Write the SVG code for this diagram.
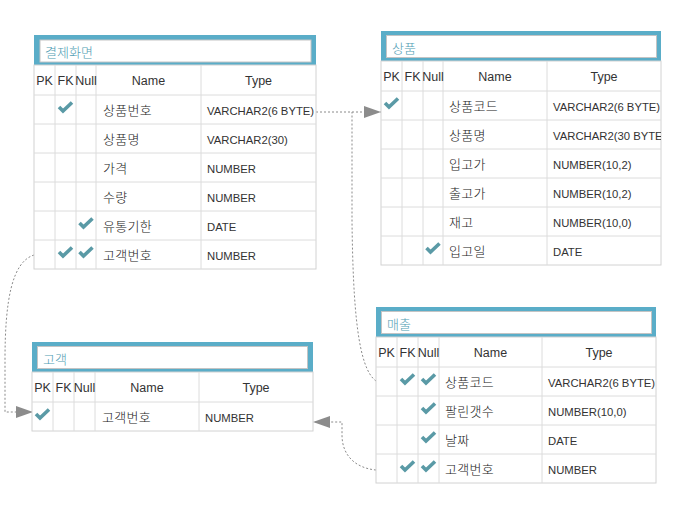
<svg xmlns="http://www.w3.org/2000/svg" xmlns:xlink="http://www.w3.org/1999/xlink" width="685" height="507" viewBox="0 0 685 507">
<style>
.hd{fill:#5aadc8}
.hi{fill:#fff;stroke:#c4c4c4;stroke-width:1}
.title{font-family:"Noto Sans CJK KR",sans-serif;font-size:13px;font-weight:300;fill:#4f9cb3}
.grid{fill:#fff;stroke:#d2d2d2;stroke-width:1}
.ln{stroke:#dcdcdc;stroke-width:1;fill:none}
.ch{font-family:"Liberation Sans",Arial,sans-serif;font-size:12.5px;fill:#333;text-anchor:middle}
.kn{font-family:"Noto Sans CJK KR",sans-serif;font-size:13px;font-weight:300;fill:#222;letter-spacing:0.3px}
.ty{font-family:"Liberation Sans",Arial,sans-serif;font-size:11.3px;fill:#333}
.ck{fill:none;stroke:#5a9aa6;stroke-width:3.6}
.conn path{fill:none;stroke:#8a8a8a;stroke-width:1;stroke-dasharray:2 2}
</style>
<defs>
<path id="chk" class="ck" d="M-6.5,-0.5 L-2.5,3.5 L6.5,-5"/>
<marker id="arr" viewBox="0 0 17 12" refX="17" refY="6" markerWidth="17" markerHeight="12" markerUnits="userSpaceOnUse" orient="auto">
<path d="M0,0 L17,6 L0,12 z" fill="#8c8c8c"/>
</marker>
<clipPath id="c2"><rect x="0" y="0" width="280" height="240"/></clipPath>
</defs>

<g id="connectors" class="conn">
<path d="M316,112 L381,112" marker-end="url(#arr)"/>
<path d="M376,381 C358,368 353,310 352,220 L352,112"/>
<path d="M34,255 C12,262 5,300 5,360 L5,412 L33,412" marker-end="url(#arr)"/>
<path d="M376,470 C355,468 342,455 342,435 L342,422 L313,422" marker-end="url(#arr)"/>
</g>

<g id="table-결제화면" transform="translate(34,35)">
<rect class="hd" x="0" y="0" width="282" height="30"/>
<rect class="hi" x="6" y="5" width="271" height="22"/>
<text class="title" x="11" y="22">결제화면</text>
<rect class="grid" x="0" y="30" width="282" height="204"/>
<path class="ln" d="M21,30V234M42,30V234M62,30V234M167,30V234M0,60H282M0,89H282M0,118H282M0,147H282M0,176H282M0,205H282"/>
<text class="ch" x="10.5" y="50">PK</text>
<text class="ch" x="31.5" y="50">FK</text>
<text class="ch" x="52" y="50">Null</text>
<text class="ch" x="114.5" y="50">Name</text>
<text class="ch" x="224.5" y="50">Type</text>
<use href="#chk" x="31.5" y="72.5"/>
<text class="kn" x="69" y="79.5">상품번호</text><text class="ty" x="173" y="80">VARCHAR2(6 BYTE)</text>
<text class="kn" x="69" y="108.5">상품명</text><text class="ty" x="173" y="109">VARCHAR2(30)</text>
<text class="kn" x="69" y="137.5">가격</text><text class="ty" x="173" y="138">NUMBER</text>
<text class="kn" x="69" y="166.5">수량</text><text class="ty" x="173" y="167">NUMBER</text>
<use href="#chk" x="52" y="188.5"/>
<text class="kn" x="69" y="195.5">유통기한</text><text class="ty" x="173" y="196">DATE</text>
<use href="#chk" x="31.5" y="217.5"/><use href="#chk" x="52" y="217.5"/>
<text class="kn" x="69" y="224.5">고객번호</text><text class="ty" x="173" y="225">NUMBER</text>
</g>

<g id="table-상품" transform="translate(381,31)">
<rect class="hd" x="0" y="0" width="280" height="30"/>
<rect class="hi" x="5.5" y="4.5" width="270" height="22"/>
<text class="title" x="11" y="22">상품</text>
<rect class="grid" x="0" y="30" width="280" height="204"/>
<path class="ln" d="M21,30V234M42,30V234M62,30V234M166,30V234M0,60H280M0,89H280M0,118H280M0,147H280M0,176H280M0,205H280"/>
<text class="ch" x="10.5" y="50">PK</text>
<text class="ch" x="31.5" y="50">FK</text>
<text class="ch" x="52" y="50">Null</text>
<text class="ch" x="114" y="50">Name</text>
<text class="ch" x="223" y="50">Type</text>
<g clip-path="url(#c2)">
<use href="#chk" x="10.5" y="72.5"/>
<text class="kn" x="68" y="79.5">상품코드</text><text class="ty" x="172" y="80">VARCHAR2(6 BYTE)</text>
<text class="kn" x="68" y="108.5">상품명</text><text class="ty" x="172" y="109">VARCHAR2(30 BYTE)</text>
<text class="kn" x="68" y="137.5">입고가</text><text class="ty" x="172" y="138">NUMBER(10,2)</text>
<text class="kn" x="68" y="166.5">출고가</text><text class="ty" x="172" y="167">NUMBER(10,2)</text>
<text class="kn" x="68" y="195.5">재고</text><text class="ty" x="172" y="196">NUMBER(10,0)</text>
<use href="#chk" x="52" y="217.5"/>
<text class="kn" x="68" y="224.5">입고일</text><text class="ty" x="172" y="225">DATE</text>
</g>
</g>

<g id="table-매출" transform="translate(376,307)">
<rect class="hd" x="0" y="0" width="280" height="30"/>
<rect class="hi" x="5.5" y="4.5" width="270" height="22"/>
<text class="title" x="11" y="22">매출</text>
<rect class="grid" x="0" y="30" width="280" height="146"/>
<path class="ln" d="M21,30V176M42,30V176M63,30V176M166,30V176M0,60H280M0,89H280M0,118H280M0,147H280"/>
<text class="ch" x="10.5" y="50">PK</text>
<text class="ch" x="31.5" y="50">FK</text>
<text class="ch" x="52.5" y="50">Null</text>
<text class="ch" x="114.5" y="50">Name</text>
<text class="ch" x="223" y="50">Type</text>
<use href="#chk" x="31.5" y="72.5"/><use href="#chk" x="52.5" y="72.5"/>
<text class="kn" x="69" y="79.5">상품코드</text><text class="ty" x="172" y="80">VARCHAR2(6 BYTE)</text>
<use href="#chk" x="52.5" y="101.5"/>
<text class="kn" x="69" y="108.5">팔린갯수</text><text class="ty" x="172" y="109">NUMBER(10,0)</text>
<use href="#chk" x="52.5" y="130.5"/>
<text class="kn" x="69" y="137.5">날짜</text><text class="ty" x="172" y="138">DATE</text>
<use href="#chk" x="31.5" y="159.5"/><use href="#chk" x="52.5" y="159.5"/>
<text class="kn" x="69" y="166.5">고객번호</text><text class="ty" x="172" y="167">NUMBER</text>
</g>

<g id="table-고객" transform="translate(32,342)">
<rect class="hd" x="0" y="0" width="281" height="30"/>
<rect class="hi" x="5.5" y="4.5" width="270" height="22"/>
<text class="title" x="11" y="22">고객</text>
<rect class="grid" x="0" y="30" width="281" height="59"/>
<path class="ln" d="M21,30V89M42,30V89M63,30V89M167,30V89M0,60H281"/>
<text class="ch" x="10.5" y="50">PK</text>
<text class="ch" x="31.5" y="50">FK</text>
<text class="ch" x="52.5" y="50">Null</text>
<text class="ch" x="115" y="50">Name</text>
<text class="ch" x="224" y="50">Type</text>
<use href="#chk" x="10.5" y="72.5"/>
<text class="kn" x="70" y="79.5">고객번호</text><text class="ty" x="173" y="80">NUMBER</text>
</g>
</svg>
